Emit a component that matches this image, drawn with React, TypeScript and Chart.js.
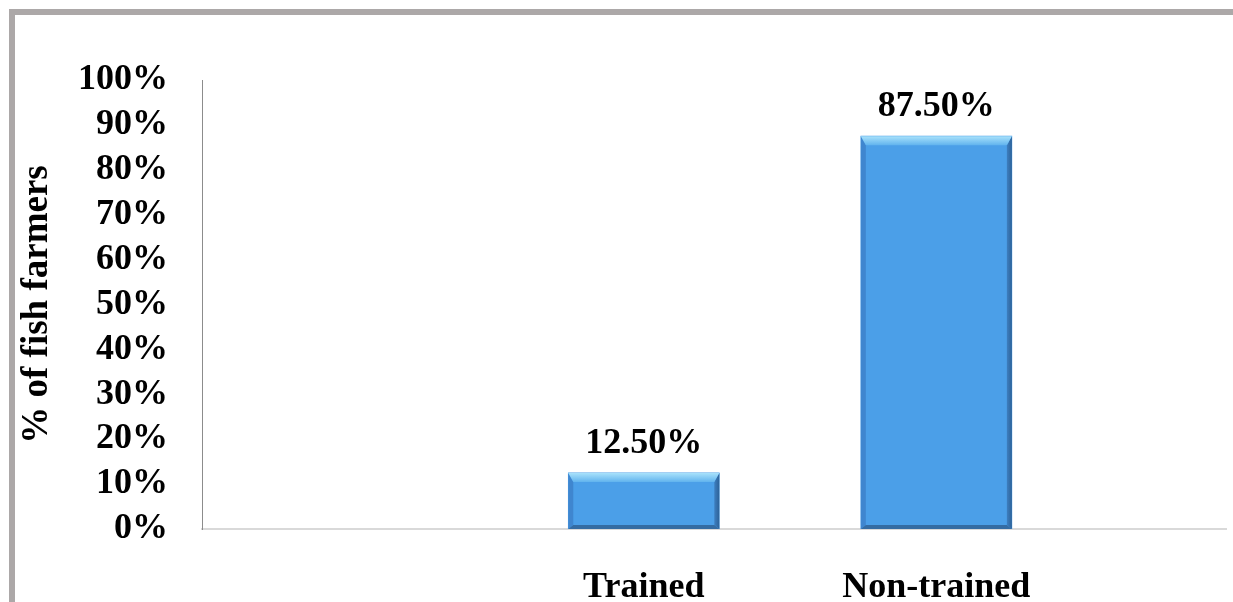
import React, { useEffect, useRef } from "react";
import { Chart, registerables } from "chart.js";

Chart.register(...registerables);

const categories = ["Trained", "Non-trained"];
const categoryPositions = [0, 1];
const percentValues = [12.5, 87.5];
const valueLabels = ["12.50%", "87.50%"];
const yAxisTitle = "% of fish farmers";

const FONT = "'Liberation Serif', 'Times New Roman', serif";

const bevelPlugin = {
  id: "bevel",
  afterDatasetsDraw(chart: any) {
    const ctx = chart.ctx;
    const meta = chart.getDatasetMeta(0);
    meta.data.forEach((bar: any) => {
      const { x, y, base, width } = bar.getProps(["x", "y", "base", "width"], true);
      const l = x - width / 2;
      const r = x + width / 2;
      const t = y;
      const b = base;
      const et = 9;
      const es = 5;
      const eb = 4;
      ctx.save();
      // left edge
      ctx.fillStyle = "#3f86cf";
      ctx.beginPath();
      ctx.moveTo(l, t);
      ctx.lineTo(l + es, t + et);
      ctx.lineTo(l + es, b - eb);
      ctx.lineTo(l, b);
      ctx.closePath();
      ctx.fill();
      // right edge
      const gR = ctx.createLinearGradient(r - es, 0, r, 0);
      gR.addColorStop(0, "#3d7fc0");
      gR.addColorStop(1, "#2d6299");
      ctx.fillStyle = gR;
      ctx.beginPath();
      ctx.moveTo(r, t);
      ctx.lineTo(r, b);
      ctx.lineTo(r - es, b - eb);
      ctx.lineTo(r - es, t + et);
      ctx.closePath();
      ctx.fill();
      // bottom edge
      ctx.fillStyle = "#346ca3";
      ctx.beginPath();
      ctx.moveTo(l, b);
      ctx.lineTo(r, b);
      ctx.lineTo(r - es, b - eb);
      ctx.lineTo(l + es, b - eb);
      ctx.closePath();
      ctx.fill();
      // top edge
      const gT = ctx.createLinearGradient(0, t, 0, t + et);
      gT.addColorStop(0, "#a9e2fb");
      gT.addColorStop(1, "#62b4ee");
      ctx.fillStyle = gT;
      ctx.beginPath();
      ctx.moveTo(l, t);
      ctx.lineTo(r, t);
      ctx.lineTo(r - es, t + et);
      ctx.lineTo(l + es, t + et);
      ctx.closePath();
      ctx.fill();
      ctx.restore();
    });
  },
};

const valueLabelPlugin = {
  id: "valueLabels",
  afterDatasetsDraw(chart: any) {
    const ctx = chart.ctx;
    const meta = chart.getDatasetMeta(0);
    ctx.save();
    ctx.font = `bold 36px ${FONT}`;
    ctx.fillStyle = "#000000";
    ctx.textAlign = "center";
    ctx.textBaseline = "alphabetic";
    meta.data.forEach((bar: any, i: number) => {
      const { x, y } = bar.getProps(["x", "y"], true);
      ctx.fillText(valueLabels[i], x, y - 20);
    });
    ctx.restore();
  },
};

export default function App() {
  const canvasRef = useRef<HTMLCanvasElement | null>(null);

  useEffect(() => {
    const canvas = canvasRef.current;
    if (!canvas) return;
    const chart = new Chart(canvas, {
      type: "bar",
      data: {
        datasets: [
          {
            data: categoryPositions.map((p, i) => ({ x: p, y: percentValues[i] })),
            backgroundColor: "#4b9fe8",
            borderWidth: 0,
            barThickness: 151,
          },
        ],
      },
      options: {
        responsive: false,
        animation: false,
        layout: { padding: { top: 65, right: 7, left: 0, bottom: 0 } },
        plugins: {
          legend: { display: false },
          tooltip: { enabled: false },
        },
        scales: {
          x: {
            type: "linear",
            offset: false,
            min: -1.51,
            max: 1.99,
            grid: { display: false, drawTicks: false, offset: false },
            border: { display: true, color: "#d9d9d9", width: 2 },
            afterBuildTicks: (scale: any) => {
              scale.ticks = categoryPositions.map((v) => ({ value: v }));
            },
            afterFit: (scale: any) => {
              scale.height = 73;
            },
            ticks: {
              autoSkip: false,
              maxRotation: 0,
              padding: 37,
              color: "#000000",
              font: { family: FONT, size: 36, weight: "bold" },
              callback: (v: any) => {
                const idx = categoryPositions.indexOf(Number(v));
                return idx >= 0 ? categories[idx] : "";
              },
            },
          },
          y: {
            min: 0,
            max: 100,
            grid: { display: false, drawTicks: false },
            border: { display: true, color: "#8c8c8c", width: 1 },
            afterFit: (scale: any) => {
              scale.width = 187;
            },
            ticks: {
              stepSize: 10,
              autoSkip: false,
              padding: 34,
              color: "#000000",
              font: { family: FONT, size: 36, weight: "bold" },
              callback: (v: any) => `${v}%`,
            },
            title: {
              display: true,
              text: yAxisTitle,
              color: "#000000",
              padding: { top: 0, bottom: 0 },
              font: { family: FONT, size: 37, weight: "bold", lineHeight: 1.2 },
            },
          },
        },
      },
      plugins: [bevelPlugin, valueLabelPlugin],
    } as any);
    return () => chart.destroy();
  }, []);

  return (
    <div
      style={{
        position: "fixed",
        left: 9,
        top: 9,
        right: 0,
        bottom: 0,
        borderTop: "6px solid #aca8a8",
        borderLeft: "6px solid #aca8a8",
        background: "#ffffff",
        overflow: "hidden",
      }}
    >
      <canvas ref={canvasRef} width={1218} height={587} style={{ display: "block" }} />
    </div>
  );
}
